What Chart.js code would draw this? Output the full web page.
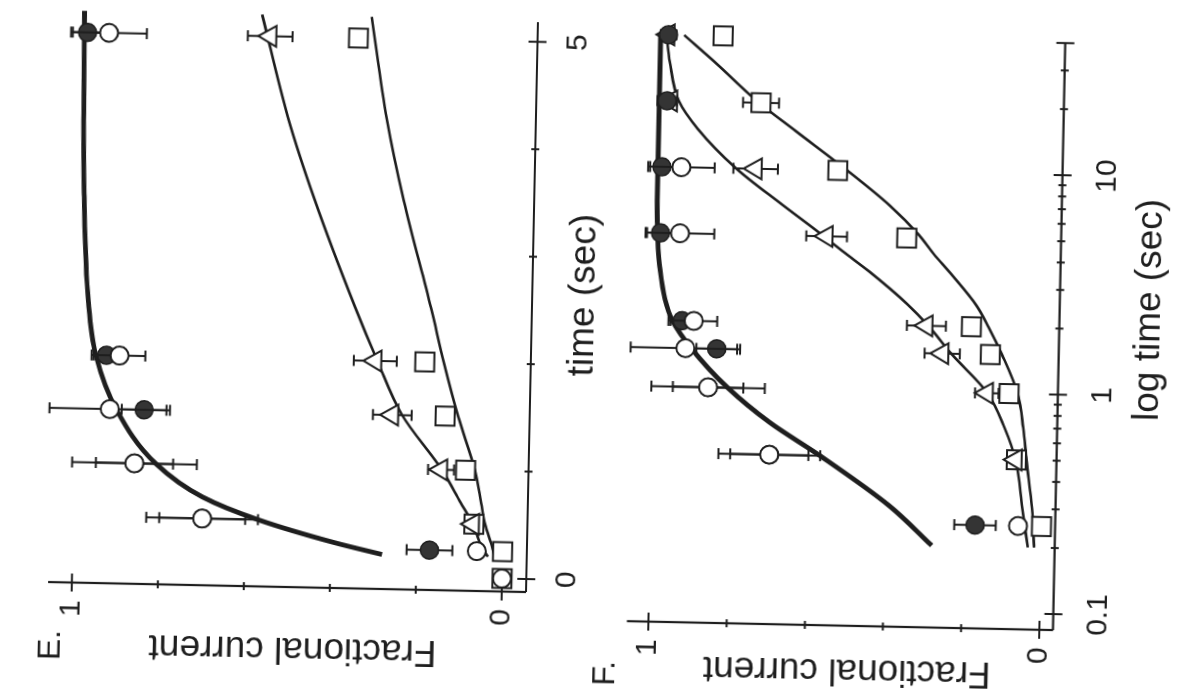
<!DOCTYPE html>
<html lang="en">
<head>
<meta charset="utf-8">
<title>Fractional current vs time</title>
<script src="https://cdn.jsdelivr.net/npm/chart.js@4.4.1/dist/chart.umd.min.js"></script>
<style>
  html, body { margin: 0; padding: 0; width: 1180px; height: 698px; overflow: hidden; background: #ffffff; }
  /* The two panels are laid out upright (698 x 1180) and the sheet is turned on its side as a whole. */
  #sheet { position: absolute; left: 0; top: 0; width: 698px; height: 1180px;
           transform-origin: 0 0; transform: translate(-2.1px, 687px) rotate(-88.8deg); }
  #panelE, #panelF { position: absolute; left: 0; }
  #panelE { top: 0; }
  #panelF { top: 560px; }
</style>
</head>
<body>
<div id="sheet">
  <canvas id="panelE" width="698" height="600"></canvas>
  <canvas id="panelF" width="698" height="620"></canvas>
</div>
<script>
// ---- measurements (time in s, fractional current) ----
const sampleTimes     = [0, 0.25, 0.5, 1, 1.5, 2, 5, 10, 20, 40];
const filledCircles   = [null, 0.17, 0.70, 0.86, 0.84, 0.93, 0.99, 0.99, 0.98, 0.98];
const filledCircleErr = [0, 0.053, 0.10, 0.09, 0.052, 0.035, 0.034, 0.03, 0.025, 0.02];
const openCircles     = [0, 0.06, 0.70, 0.86, 0.92, 0.90, 0.94, 0.94, null, null];
const openCircleErr   = [0, 0, 0.13, 0.145, 0.14, 0.06, 0.088, 0.085, 0, 0];
const triangles       = [null, null, 0.07, 0.147, 0.263, 0.305, 0.565, 0.75, 0.97, 0.98];
const triangleErr     = [0, 0, 0, 0.03, 0.045, 0.05, 0.052, 0.057, 0, 0];
const squares         = [0, 0.0, 0.068, 0.09, 0.14, 0.19, 0.36, 0.54, 0.74, 0.84];
const squareErr       = [0, 0, 0, 0, 0, 0, 0, 0, 0.046, 0];

// ---- fitted curves ----
const fitTimes    = [0.2, 0.3, 0.5, 0.7, 1, 1.5, 2, 2.5, 3.5, 4.25, 5.2, 7, 10, 15, 20, 30, 40];
const circleFit   = [0.28, 0.39, 0.57, 0.70, 0.81, 0.905, 0.955, 0.975, 0.99, 0.995, 0.998, 1, 1, 1, 1, 1, 1];
const triangleFit = [0.034, 0.05, 0.07, 0.10, 0.145, 0.24, 0.30, 0.355, 0.455, 0.52, 0.585, 0.685, 0.80, 0.90, 0.95, 0.975, 0.985];
const squareFit   = [0.018, 0.025, 0.042, 0.052, 0.068, 0.11, 0.146, 0.178, 0.247, 0.29, 0.33, 0.405, 0.515, 0.65, 0.745, 0.857, 0.94];

// ---- axis ticks ----
const fractionTicks        = [0, 0.2, 0.4, 0.6, 0.8, 1];
const fractionTickLabels   = ['0', '', '', '', '', '1'];
const linearTimeTicks      = [0, 1, 2, 3, 4, 5];
const linearTimeTickLabels = ['0', '', '', '', '', '5'];
const logTimeTicks         = [0.1, 0.2, 0.3, 0.4, 0.5, 0.6, 0.7, 0.8, 0.9, 1, 2, 3, 4, 5, 6, 7, 8, 9, 10, 20, 30, 40];
const logTimeTickLabels    = ['0.1', '', '', '', '', '', '', '', '', '1', '', '', '', '', '', '', '', '', '10', '', '', ''];

const INK = '#1e1e1e';
const FONT = '"Liberation Sans", Arial, Helvetica, sans-serif';

// Vertical error bars with short caps, drawn just beneath each marker set.
const errorBars = {
  id: 'errorBars',
  beforeDatasetDraw(chart, args) {
    const ds = chart.data.datasets[args.index];
    if (!ds.errors) return;
    const ys = chart.scales.y, ctx = chart.ctx;
    ctx.save();
    ctx.strokeStyle = INK;
    ctx.lineWidth = 2;
    ctx.beginPath();
    args.meta.data.forEach((el, i) => {
      const e = ds.errors[i];
      if (!e) return;
      const v = ds.data[i].y;
      const top = ys.getPixelForValue(v + e), bot = ys.getPixelForValue(v - e);
      ctx.moveTo(el.x, top); ctx.lineTo(el.x, bot);
      ctx.moveTo(el.x - 5.5, top); ctx.lineTo(el.x + 5.5, top);
      ctx.moveTo(el.x - 5.5, bot); ctx.lineTo(el.x + 5.5, bot);
    });
    ctx.stroke();
    ctx.restore();
  }
};

// Open-ended L axes with crossing tick marks, tick labels, titles and the panel letter.
function figureAxes(cfg) {
  return {
    id: 'figureAxes',
    beforeDatasetsDraw(chart) {
      const ctx = chart.ctx, xs = chart.scales.x, ys = chart.scales.y;
      const baseY = ys.getPixelForValue(cfg.fracRange[0]);
      const baseX = xs.getPixelForValue(cfg.timeRange[0]);
      ctx.save();
      ctx.strokeStyle = INK;
      ctx.fillStyle = INK;
      ctx.lineWidth = 2.2;
      ctx.beginPath();
      ctx.moveTo(baseX, baseY); ctx.lineTo(xs.getPixelForValue(cfg.timeRange[1]), baseY);
      ctx.moveTo(baseX, baseY); ctx.lineTo(baseX, ys.getPixelForValue(cfg.fracRange[1]));
      ctx.stroke();

      ctx.lineWidth = 2;
      ctx.beginPath();
      cfg.timeTicks.forEach((v, i) => {
        const px = xs.getPixelForValue(v);
        const h = (cfg.timeTickLabels[i] || cfg.timeCaps.includes(v)) ? 9 : 4;
        ctx.moveTo(px, baseY - h); ctx.lineTo(px, baseY + h);
      });
      fractionTicks.forEach((v, i) => {
        const py = ys.getPixelForValue(v);
        const w = fractionTickLabels[i] ? 9 : 4;
        ctx.moveTo(baseX - w, py); ctx.lineTo(baseX + w, py);
      });
      ctx.stroke();

      ctx.font = '30px ' + FONT;
      ctx.textAlign = 'center';
      ctx.textBaseline = 'middle';
      cfg.timeTicks.forEach((v, i) => {
        if (cfg.timeTickLabels[i]) ctx.fillText(cfg.timeTickLabels[i], xs.getPixelForValue(v), baseY + cfg.timeLabelGap);
      });
      fractionTicks.forEach((v, i) => {
        if (fractionTickLabels[i]) ctx.fillText(fractionTickLabels[i], baseX + cfg.fracLabelGap, ys.getPixelForValue(v));
      });

      ctx.font = '37px ' + FONT;
      ctx.fillText(cfg.timeTitle, cfg.timeTitleAt[0], cfg.timeTitleAt[1]);
      ctx.save();
      ctx.translate(cfg.fracTitleAt[0], cfg.fracTitleAt[1]);
      ctx.rotate(-Math.PI / 2);
      ctx.fillText('Fractional current', 0, 0);
      ctx.restore();

      ctx.font = '32px ' + FONT;
      ctx.textAlign = 'left';
      ctx.fillText(cfg.letter, cfg.letterAt[0], cfg.letterAt[1]);
      ctx.restore();
    }
  };
}

function markerSet(label, values, errs, keep, style) {
  const data = [], errors = [];
  sampleTimes.forEach((t, i) => {
    if (values[i] === null || !keep(t)) return;
    data.push({ x: t, y: values[i] });
    errors.push(errs[i]);
  });
  return Object.assign({ label, data, errors, showLine: false, clip: false }, style);
}

function fitCurve(label, values, keep, width, order) {
  const data = [];
  fitTimes.forEach((t, i) => { if (keep(t)) data.push({ x: t, y: values[i] }); });
  return {
    label, data, showLine: true, pointRadius: 0, borderColor: INK, borderWidth: width,
    cubicInterpolationMode: 'monotone', clip: false, order
  };
}

function buildPanel(canvasId, keepPoint, keepFit, xScale, yScale, padding, axesCfg) {
  const datasets = [
    markerSet('open', openCircles, openCircleErr, keepPoint,
      { pointStyle: 'circle', pointRadius: 9, pointBackgroundColor: '#ffffff', pointBorderColor: INK, pointBorderWidth: 2, order: 0 }),
    markerSet('filled', filledCircles, filledCircleErr, keepPoint,
      { pointStyle: 'circle', pointRadius: 9, pointBackgroundColor: '#343434', pointBorderColor: INK, pointBorderWidth: 1.5, order: 1 }),
    markerSet('triangle', triangles, triangleErr, keepPoint,
      { pointStyle: 'triangle', pointRadius: 12, pointBackgroundColor: '#ffffff', pointBorderColor: INK, pointBorderWidth: 2, order: 2 }),
    markerSet('square', squares, squareErr, keepPoint,
      { pointStyle: 'rect', pointRadius: 13.4, pointBackgroundColor: '#ffffff', pointBorderColor: INK, pointBorderWidth: 2, order: 3 }),
    fitCurve('circle fit', circleFit, keepFit, 4.8, 4),
    fitCurve('triangle fit', triangleFit, keepFit, 2.6, 5),
    fitCurve('square fit', squareFit, keepFit, 2.6, 6)
  ];
  return new Chart(document.getElementById(canvasId), {
    type: 'scatter',
    data: { datasets },
    options: {
      responsive: false,
      animation: false,
      events: [],
      layout: { padding },
      scales: { x: Object.assign({ display: false }, xScale), y: Object.assign({ display: false }, yScale) },
      plugins: { legend: { display: false }, tooltip: { enabled: false } }
    },
    plugins: [errorBars, figureAxes(axesCfg)]
  });
}

// Panel E: linear time axis
buildPanel('panelE', t => t <= 5, t => t <= 5.2,
  { type: 'linear', min: -0.121, max: 5.183 },
  { type: 'linear', min: -0.0565, max: 1.055 },
  { left: 106, right: 22, top: 48, bottom: 74 },
  {
    timeRange: [-0.121, 5.183], fracRange: [-0.0565, 1.055],
    timeTicks: linearTimeTicks, timeTickLabels: linearTimeTickLabels, timeCaps: [],
    timeLabelGap: 41, fracLabelGap: -26,
    timeTitle: 'time (sec)', timeTitleAt: [404, 578],
    fracTitleAt: [45.2, 293.7],
    letter: 'E.', letterAt: [28, 52]
  });

// Panel F: logarithmic time axis
buildPanel('panelF', t => t > 0, t => true,
  { type: 'logarithmic', min: 0.08455, max: 41 },
  { type: 'linear', min: -0.035, max: 1.055 },
  { left: 79, right: 29.5, top: 67.5, bottom: 126.3 },
  {
    timeRange: [0.08455, 40], fracRange: [-0.035, 1.055],
    timeTicks: logTimeTicks, timeTickLabels: logTimeTickLabels, timeCaps: [40],
    timeLabelGap: 45, fracLabelGap: -26,
    timeTitle: 'log time (sec)', timeTitleAt: [401, 583.9],
    fracTitleAt: [34.3, 288.3],
    letter: 'F.', letterAt: [14, 47]
  });
</script>
</body>
</html>
